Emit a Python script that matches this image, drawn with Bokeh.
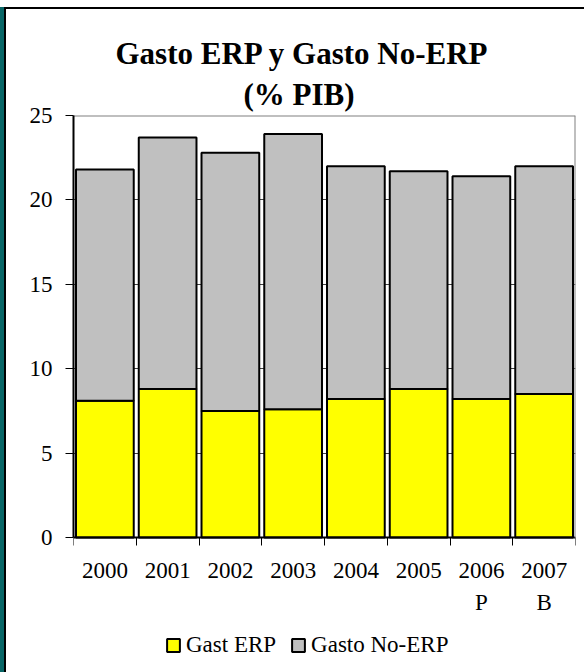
from bokeh.plotting import figure
from bokeh.models import (FixedTicker, Range1d, Title, Legend, LegendItem,
                          ColumnDataSource, LinearAxis)
from bokeh.embed import file_html
from bokeh.resources import INLINE

# ---- data ----
years = ["2000", "2001", "2002", "2003", "2004", "2005", "2006\nP", "2007\nB"]
gasto_erp = [8.1, 8.8, 7.5, 7.6, 8.2, 8.8, 8.2, 8.5]
gasto_no_erp = [13.7, 14.9, 15.3, 16.3, 13.8, 12.9, 13.2, 13.5]
series_names = ["Gast ERP", "Gasto No-ERP"]
y_ticks = [0, 5, 10, 15, 20, 25]
title_lines = ["Gasto ERP y Gasto No-ERP", "(% PIB)"]
y_min, y_max = 0, 25

FONT = "Liberation Serif"

xpos = [i + 0.5 for i in range(len(years))]
src = ColumnDataSource(dict(x=xpos, erp=gasto_erp, noerp=gasto_no_erp))

# frame reaches down to the bottom of the chart so that the legend fits inside it;
# the value axis covers 0..25 (422 px), the extra 135 px below 0 hold labels + legend
px_per_unit = 422 / (y_max - y_min)
p = figure(frame_width=502, frame_height=557,
           x_range=Range1d(0, len(years)),
           y_range=Range1d(y_min - 135 / px_per_unit, y_max),
           output_backend="svg", toolbar_location=None,
           min_border_left=67, min_border_right=9,
           min_border_top=106, min_border_bottom=0,
           styles={"margin-left": "4px", "margin-top": "7px",
                   "border-left": "2px solid black",
                   "border-top": "2px solid black",
                   "box-shadow": "-4px 0 0 0 #086666"})

rs = p.vbar_stack(["erp", "noerp"], x="x", width=0.92, source=src,
                  fill_color=["#FFFF00", "#C0C0C0"], line_color="black",
                  line_width=2)

# grid / outline
p.xgrid.grid_line_color = None
p.ygrid.grid_line_color = "#404040"
p.ygrid.grid_line_width = 1
p.ygrid.ticker = FixedTicker(ticks=y_ticks)
p.outline_line_color = None
p.background_fill_color = "white"
p.border_fill_color = "white"

# x axis, fixed at y = 0
xa = p.xaxis[0]
xa.fixed_location = 0
xa.ticker = FixedTicker(ticks=xpos, minor_ticks=list(range(len(years) + 1)))
xa.major_label_overrides = {xv: y for xv, y in zip(xpos, years)}
xa.major_tick_line_color = None
xa.major_tick_out = 0
xa.major_tick_in = 0
xa.minor_tick_line_color = "black"
xa.minor_tick_out = 8
xa.minor_tick_in = 0
xa.minor_tick_line_width = 1
xa.axis_line_color = "black"
xa.axis_line_width = 2
xa.major_label_text_font = FONT
xa.major_label_text_font_size = "23px"
xa.major_label_text_color = "black"
xa.major_label_standoff = 12
xa.major_label_text_line_height = 1.3

# y axis
ya = p.yaxis[0]
ya.bounds = (y_min, y_max)
ya.ticker = FixedTicker(ticks=y_ticks)
ya.minor_tick_line_color = None
ya.major_tick_out = 8
ya.major_tick_in = 0
ya.major_tick_line_color = "black"
ya.axis_line_color = "black"
ya.axis_line_width = 2
ya.major_label_text_font = FONT
ya.major_label_text_font_size = "23px"
ya.major_label_text_color = "black"
ya.major_label_standoff = 13

# grey plot-area border on top and right
top_axis = LinearAxis(fixed_location=y_max, ticker=FixedTicker(ticks=[]),
                      axis_line_color="#808080", axis_line_width=2,
                      major_tick_line_color=None, minor_tick_line_color=None,
                      major_label_text_font_size="0px")
p.add_layout(top_axis, "above")
right_axis = LinearAxis(fixed_location=len(years), bounds=(y_min, y_max),
                        ticker=FixedTicker(ticks=[]),
                        axis_line_color="#808080", axis_line_width=2,
                        major_tick_line_color=None, minor_tick_line_color=None,
                        major_label_text_font_size="0px")
p.add_layout(right_axis, "right")

# title: two lines, each its own Title so each can be centred
p.title.text = title_lines[0]
p.title.align = "left"
p.title.offset = 42
p.title.standoff = 0
p.title.text_font = FONT
p.title.text_font_style = "bold"
p.title.text_font_size = "31px"
p.title.text_color = "black"
p.add_layout(Title(text=title_lines[1], align="left", offset=170, standoff=8,
                   text_font=FONT, text_font_style="bold",
                   text_font_size="31px", text_color="black"), "above")

legend = Legend(items=[LegendItem(label=series_names[0], renderers=[rs[0]]),
                       LegendItem(label=series_names[1], renderers=[rs[1]])],
                location=(92, 14), orientation="horizontal",
                background_fill_alpha=0, border_line_color=None,
                padding=0, margin=0, spacing=14,
                glyph_width=16, glyph_height=16, label_standoff=5,
                label_text_font=FONT, label_text_font_size="23px",
                label_text_color="black")
p.add_layout(legend, "center")

open("out.html", "w").write(file_html(p, INLINE))
